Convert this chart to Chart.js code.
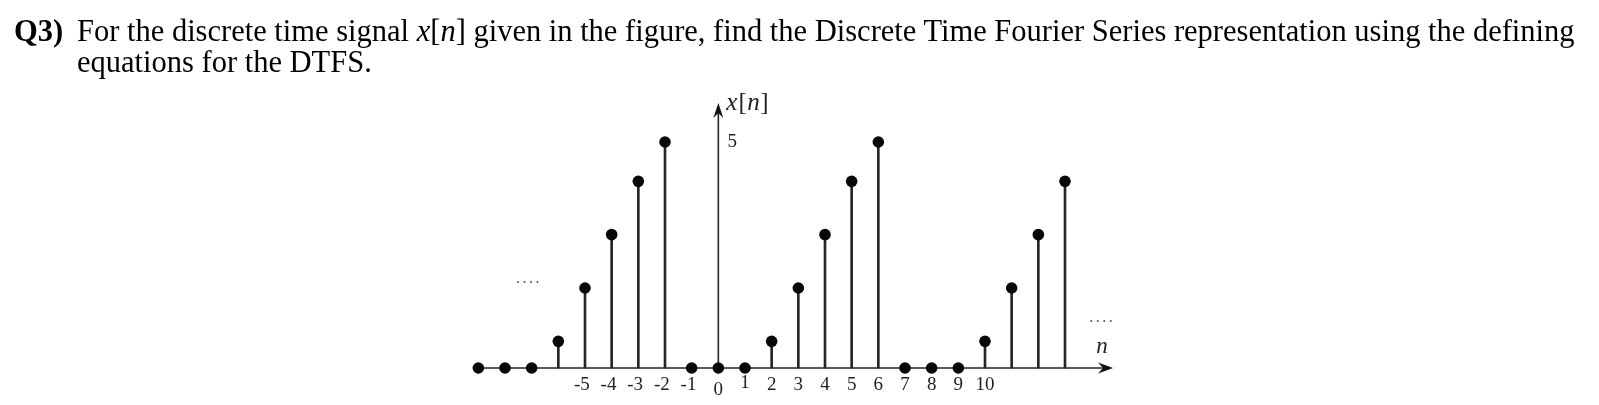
<!DOCTYPE html>
<html>
<head>
<meta charset="utf-8">
<script src="https://cdn.jsdelivr.net/npm/chart.js@4/dist/chart.umd.min.js"></script>
<style>
html,body{margin:0;padding:0;background:#fff;width:1599px;height:405px;overflow:hidden;}
#wrap{position:relative;width:1599px;height:405px;}
canvas{position:absolute;left:0;top:0;}
.ln{position:absolute;white-space:nowrap;font-family:"Liberation Serif",serif;color:#000;line-height:1;}
#q{font-weight:bold;}
</style>
</head>
<body>
<div id="wrap">
<canvas id="c" width="1599" height="405"></canvas>
<div class="ln" id="q">Q3)</div>
<div class="ln" id="l1">For the discrete time signal <i>x</i>[<i>n</i>] given in the figure, find the Discrete Time Fourier Series representation using the defining</div>
<div class="ln" id="l2">equations for the DTFS.</div>
</div>
<script>
// ---- data ----
const nIndex   = [-9,-8,-7,-6,-5,-4,-3,-2,-1,0,1,2,3,4,5,6,7,8,9,10,11,12,13];
const xValues  = [0,0,0,0.59,1.77,2.95,4.13,5,0,0,0,0.59,1.77,2.95,4.13,5,0,0,0,0.59,1.77,2.95,4.13];
const tickValues = [-5,-4,-3,-2,-1,0,1,2,3,4,5,6,7,8,9,10];
const tickLabels = ['-5','-4','-3','-2','-1','0','1','2','3','4','5','6','7','8','9','10'];
const yTickValue = 5;
const yTickLabel = '5';
const yAxisTitle = ['x','[','n',']'];
const xAxisTitle = 'n';

// ---- heading layout (fit to reference width) ----
(function(){
  const l1 = document.getElementById('l1'), l2 = document.getElementById('l2'), q = document.getElementById('q');
  let F = 27;
  l1.style.fontSize = F + 'px';
  const w = l1.getBoundingClientRect().width;
  F = F * 1498 / w;
  [l1,l2,q].forEach(e => e.style.fontSize = F + 'px');
  const off = 0.8375 * F;
  l1.style.left = '77px'; l1.style.top = (42 - off) + 'px';
  l2.style.left = '77px'; l2.style.top = (73 - off) + 'px';
  q.style.left = '14px';  q.style.top = (42 - off) + 'px';
})();

const INK = '#262626';

const stemAxes = {
  id: 'stemAxes',
  beforeDatasetsDraw(chart){
    const {ctx, scales:{x, y}} = chart;
    const y0 = y.getPixelForValue(0);
    const x0 = x.getPixelForValue(0);
    const left = x.getPixelForValue(nIndex[0]);
    const right = x.right, top = y.top;
    ctx.save();
    ctx.strokeStyle = INK; ctx.lineWidth = 1.6;
    ctx.beginPath();
    ctx.moveTo(left, y0); ctx.lineTo(right - 8, y0);
    ctx.moveTo(x0, y0); ctx.lineTo(x0, top + 8);
    ctx.stroke();
    ctx.fillStyle = '#111';
    ctx.beginPath();
    ctx.moveTo(right, y0); ctx.lineTo(right - 15, y0 - 5.5); ctx.lineTo(right - 10, y0); ctx.lineTo(right - 15, y0 + 5.5); ctx.closePath();
    ctx.fill();
    ctx.beginPath();
    ctx.moveTo(x0, top); ctx.lineTo(x0 - 5, top + 15); ctx.lineTo(x0, top + 10); ctx.lineTo(x0 + 5, top + 15); ctx.closePath();
    ctx.fill();
    ctx.restore();
  },
  afterDatasetsDraw(chart){
    const {ctx, scales:{x, y}} = chart;
    const y0 = y.getPixelForValue(0);
    const x0 = x.getPixelForValue(0);
    ctx.save();
    ctx.fillStyle = '#222';
    ctx.textBaseline = 'middle';
    ctx.font = '19px "Liberation Serif"';
    tickValues.forEach((v, i) => {
      const s = tickLabels[i];
      const px = x.getPixelForValue(v);
      let dy = 17;
      if (v === 0) dy = 22;
      if (v === 1) dy = 15;
      if (s[0] === '-') {
        const dw = ctx.measureText(s.slice(1)).width;
        ctx.textAlign = 'right';
        ctx.fillText(s, px + dw / 2, y0 + dy);
      } else {
        ctx.textAlign = 'center';
        ctx.fillText(s, px, y0 + dy);
      }
    });
    // y tick label
    ctx.textAlign = 'center';
    ctx.fillText(yTickLabel, x0 + 14, y.getPixelForValue(yTickValue));
    // y axis title x[n]
    ctx.textAlign = 'left';
    let cx = x0 + 8;
    const ty = y.top + 0;
    yAxisTitle.forEach((t, i) => {
      ctx.font = (i % 2 === 0 ? 'italic ' : '') + '25px "Liberation Serif"';
      ctx.fillText(t, cx, ty);
      cx += ctx.measureText(t).width + (i === 0 ? 1 : 0.5);
    });
    // x axis title n
    ctx.font = 'italic 23px "Liberation Serif"';
    ctx.textAlign = 'center';
    ctx.fillText(xAxisTitle, x.right - 11, y0 - 21);
    // ellipses
    ctx.font = '16px "Liberation Serif"';
    ctx.fillStyle = '#555';
    ctx.letterSpacing = '2.5px';
    ctx.fillText('....', x.getPixelForValue(-7.1), y.getPixelForValue(1.98));
    ctx.fillText('....', x.getPixelForValue(14.4), y.getPixelForValue(1.12));
    ctx.restore();
  }
};

new Chart(document.getElementById('c'), {
  type: 'bar',
  data: {
    datasets: [
      {
        type: 'bar',
        data: nIndex.map((n, i) => ({x: n, y: xValues[i]})),
        backgroundColor: INK,
        borderWidth: 0,
        barThickness: 2,
        clip: false,
        order: 2
      },
      {
        type: 'scatter',
        data: nIndex.map((n, i) => ({x: n, y: xValues[i]})),
        showLine: false,
        pointRadius: 5.8,
        pointBackgroundColor: '#080808',
        pointBorderWidth: 0,
        clip: false,
        order: 1
      }
    ]
  },
  options: {
    responsive: false,
    animation: false,
    devicePixelRatio: 1,
    layout: { padding: { left: 465, right: 486, top: 103, bottom: 37 } },
    plugins: { legend: {display: false}, tooltip: {enabled: false} },
    scales: {
      x: { type: 'linear', min: -9.5, max: 14.8, offset: false, display: false },
      y: { type: 'linear', min: 0, max: 5.863, display: false }
    }
  },
  plugins: [stemAxes]
});
</script>
</body>
</html>
